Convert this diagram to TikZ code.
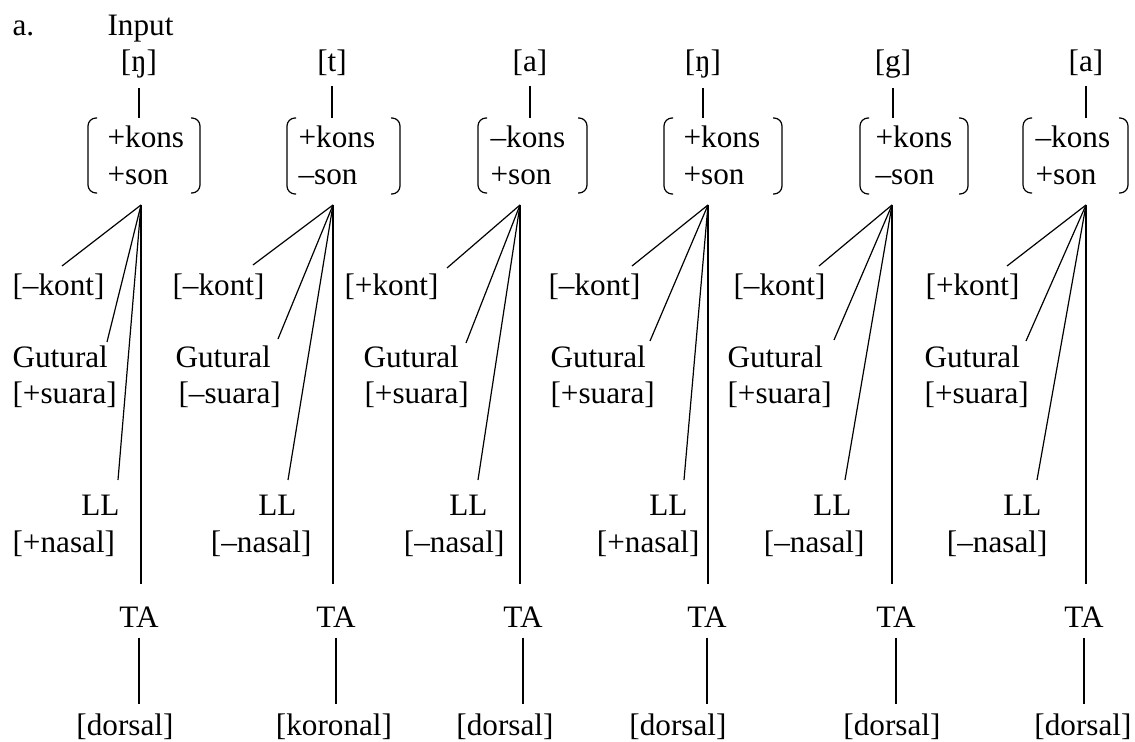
\documentclass[tikz,border=0pt]{standalone}
\usepackage{fontspec}
\setmainfont{Liberation Serif}

% round-cornered brackets of a feature matrix: left, right, top, bottom
\newcommand\featbox[4]{%
  \draw[rounded corners=4pt] (#1+9,#3) -- (#1,#3) -- (#1,#4) -- (#1+9,#4);
  \draw[rounded corners=4pt] (#2-9,#3) -- (#2,#3) -- (#2,#4) -- (#2-9,#4);}

\begin{document}
\begin{tikzpicture}[x=0.5pt,y=-0.5pt,line width=0.6pt,
    every node/.style={inner sep=0pt,font=\fontsize{15.6pt}{18pt}\selectfont},
    phon/.style={anchor=base,inner ysep=4.5pt},
    lft/.style={anchor=base west},
    rgt/.style={anchor=base east},
    tier/.style={anchor=base,inner ysep=5pt},
    leaf/.style={anchor=base,inner ysep=4.4pt},
    tolower/.style={shorten >=5.7pt}]
  \useasboundingbox (0,0) rectangle (1135,742);

  %%%%% START %%%%%
  \node[lft] (lbl) at (12,36) {a.};
  \node[lft] (inp) at (107,36) {Input};

  %%%%% [ŋ] %%%%%
  \node[phon] (ph1) at (139,72) {[ŋ]};
  \coordinate (m1) at (139,118);
  \draw (ph1.south) -- (m1);
  \featbox{88}{200}{118}{193}
  \node[lft] (fk1) at (107,148) {+kons};
  \node[lft] (fs1) at (107,185) {+son};
  \coordinate (b1) at (141,205);
  \node[lft] (ko1) at (12,296) {[–kont]};
  \node[lft] (gu1) at (12,368) {Gutural};
  \node[lft] (su1) at (12,404) {[+suara]};
  \node[rgt] (ll1) at (120,516) {LL};
  \node[lft] (na1) at (12,553) {[+nasal]};
  \node[tier] (ta1) at (139,627) {TA};
  \node[leaf] (do1) at (125,735) {[dorsal]};
  \coordinate (k1) at (62,266);
  \coordinate (g1) at (107,342);
  \coordinate (l1) at (118,480);
  \draw (b1) -- (k1);
  \draw (b1) -- (g1);
  \draw (b1) -- (l1);
  \draw[tolower] (b1) -- (b1 |- ta1.north);
  \draw (ta1.south) -- (ta1.south |- do1.north);

  %%%%% [t] %%%%%
  \node[phon] (ph2) at (332,72) {[t]};
  \coordinate (m2) at (332,118);
  \draw (ph2.south) -- (m2);
  \featbox{287}{400}{118}{194}
  \node[lft] (fk2) at (298,148) {+kons};
  \node[lft] (fs2) at (298,185) {–son};
  \coordinate (b2) at (333,205);
  \node[lft] (ko2) at (172,296) {[–kont]};
  \node[lft] (gu2) at (175,368) {Gutural};
  \node[lft] (su2) at (178,404) {[–suara]};
  \node[rgt] (ll2) at (297,516) {LL};
  \node[rgt] (na2) at (312,553) {[–nasal]};
  \node[tier] (ta2) at (336,627) {TA};
  \node[leaf] (do2) at (334,735) {[koronal]};
  \coordinate (k2) at (253,265);
  \coordinate (g2) at (278,339);
  \coordinate (l2) at (288,480);
  \draw (b2) -- (k2);
  \draw (b2) -- (g2);
  \draw (b2) -- (l2);
  \draw[tolower] (b2) -- (b2 |- ta2.north);
  \draw (ta2.south) -- (ta2.south |- do2.north);

  %%%%% [a] %%%%%
  \node[phon] (ph3) at (530,72) {[a]};
  \coordinate (m3) at (530,118);
  \draw (ph3.south) -- (m3);
  \featbox{478}{587}{118}{193}
  \node[lft] (fk3) at (490,148) {–kons};
  \node[lft] (fs3) at (490,185) {+son};
  \coordinate (b3) at (520,205);
  \node[lft] (ko3) at (344,296) {[+kont]};
  \node[lft] (gu3) at (363,368) {Gutural};
  \node[lft] (su3) at (364,404) {[+suara]};
  \node[rgt] (ll3) at (488,516) {LL};
  \node[rgt] (na3) at (505,553) {[–nasal]};
  \node[tier] (ta3) at (523,627) {TA};
  \node[leaf] (do3) at (505,735) {[dorsal]};
  \coordinate (k3) at (447,268);
  \coordinate (g3) at (466,343);
  \coordinate (l3) at (478,480);
  \draw (b3) -- (k3);
  \draw (b3) -- (g3);
  \draw (b3) -- (l3);
  \draw[tolower] (b3) -- (b3 |- ta3.north);
  \draw (ta3.south) -- (ta3.south |- do3.north);

  %%%%% [ŋ] %%%%%
  \node[phon] (ph4) at (703,72) {[ŋ]};
  \coordinate (m4) at (703,118);
  \draw (ph4.south) -- (m4);
  \featbox{664}{782}{118}{194}
  \node[lft] (fk4) at (683,148) {+kons};
  \node[lft] (fs4) at (683,185) {+son};
  \coordinate (b4) at (708,205);
  \node[lft] (ko4) at (548,296) {[–kont]};
  \node[lft] (gu4) at (550,368) {Gutural};
  \node[lft] (su4) at (550,404) {[+suara]};
  \node[rgt] (ll4) at (688,516) {LL};
  \node[rgt] (na4) at (700,553) {[+nasal]};
  \node[tier] (ta4) at (707,627) {TA};
  \node[leaf] (do4) at (678,735) {[dorsal]};
  \coordinate (k4) at (632,266);
  \coordinate (g4) at (650,341);
  \coordinate (l4) at (684,480);
  \draw (b4) -- (k4);
  \draw (b4) -- (g4);
  \draw (b4) -- (l4);
  \draw[tolower] (b4) -- (b4 |- ta4.north);
  \draw (ta4.south) -- (ta4.south |- do4.north);

  %%%%% [g] %%%%%
  \node[phon] (ph5) at (893,72) {[g]};
  \coordinate (m5) at (893,118);
  \draw (ph5.south) -- (m5);
  \featbox{860}{968}{118}{194}
  \node[lft] (fk5) at (875,148) {+kons};
  \node[lft] (fs5) at (875,185) {–son};
  \coordinate (b5) at (892,205);
  \node[lft] (ko5) at (733,296) {[–kont]};
  \node[lft] (gu5) at (727,368) {Gutural};
  \node[lft] (su5) at (727,404) {[+suara]};
  \node[rgt] (ll5) at (852,516) {LL};
  \node[rgt] (na5) at (865,553) {[–nasal]};
  \node[tier] (ta5) at (896,627) {TA};
  \node[leaf] (do5) at (892,735) {[dorsal]};
  \coordinate (k5) at (819,266);
  \coordinate (g5) at (834,340);
  \coordinate (l5) at (845,480);
  \draw (b5) -- (k5);
  \draw (b5) -- (g5);
  \draw (b5) -- (l5);
  \draw[tolower] (b5) -- (b5 |- ta5.north);
  \draw (ta5.south) -- (ta5.south |- do5.north);

  %%%%% [a] %%%%%
  \node[phon] (ph6) at (1086,72) {[a]};
  \coordinate (m6) at (1086,118);
  \draw (ph6.south) -- (m6);
  \featbox{1023}{1128}{118}{193}
  \node[lft] (fk6) at (1035,148) {–kons};
  \node[lft] (fs6) at (1035,185) {+son};
  \coordinate (b6) at (1086,205);
  \node[lft] (ko6) at (925,296) {[+kont]};
  \node[lft] (gu6) at (924,368) {Gutural};
  \node[lft] (su6) at (924,404) {[+suara]};
  \node[rgt] (ll6) at (1042,516) {LL};
  \node[rgt] (na6) at (1048,553) {[–nasal]};
  \node[tier] (ta6) at (1084,627) {TA};
  \node[leaf] (do6) at (1083,735) {[dorsal]};
  \coordinate (k6) at (1007,266);
  \coordinate (g6) at (1026,341);
  \coordinate (l6) at (1037,480);
  \draw (b6) -- (k6);
  \draw (b6) -- (g6);
  \draw (b6) -- (l6);
  \draw[tolower] (b6) -- (b6 |- ta6.north);
  \draw (ta6.south) -- (ta6.south |- do6.north);
  %%%%% END %%%%%
\end{tikzpicture}
\end{document}
